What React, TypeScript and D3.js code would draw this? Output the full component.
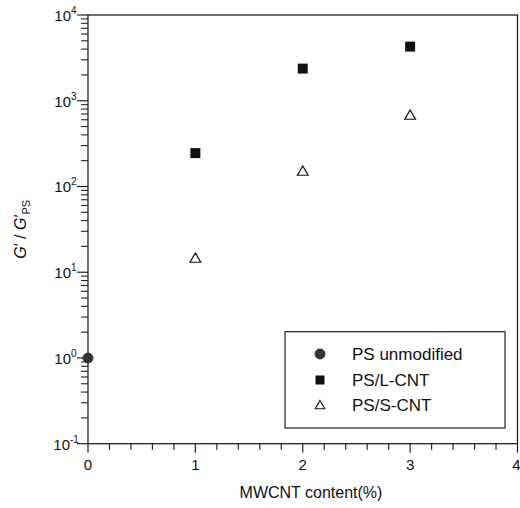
import React from "react";
import * as d3 from "d3";

const xTicks = [0, 1, 2, 3, 4];
const yExponents = [-1, 0, 1, 2, 3, 4];
const psUnmodX = [0];
const psUnmodY = [1];
const lcntX = [1, 2, 3];
const lcntY = [245, 2370, 4280];
const scntX = [1, 2, 3];
const scntY = [14.6, 151, 679];
const legendLabels = ["PS unmodified", "PS/L-CNT", "PS/S-CNT"];

const W = 520, H = 508;
const L = 88, R = 517.5, T = 15, B = 443.7;
const FONT = "Liberation Sans, Arial, sans-serif";

export default function App() {
  const x = d3.scaleLinear().domain([0, 4]).range([L, R]);
  const y = d3.scaleLog().domain([0.1, 10000]).range([B, T]);
  const minorX = d3.range(0, 4.0001, 0.2).filter((v) => Math.abs(v - Math.round(v)) > 1e-6);
  const minorY: number[] = [];
  for (let e = -1; e < 4; e++) for (let m = 2; m <= 9; m++) minorY.push(m * Math.pow(10, e));
  const tri = d3.symbol().type(d3.symbolTriangle).size(50)() as string;

  return (
    <svg width={W} height={H} style={{ position: "absolute", left: 0, top: 0 }} fontFamily={FONT}>
      <rect x={0} y={0} width={W} height={H} fill="#fff" />
      {/* frame */}
      <rect x={L} y={T} width={R - L} height={B - T} fill="none" stroke="#222" strokeWidth={1.3} />
      {/* x ticks */}
      {xTicks.map((t) => (
        <g key={"xt" + t}>
          <line x1={x(t)} x2={x(t)} y1={B} y2={B + 9} stroke="#222" strokeWidth={1.2} />
          <text x={t === 4 ? x(t) - 1 : x(t)} y={470} fontSize={15} textAnchor="middle" fill="#111">{t}</text>
        </g>
      ))}
      {minorX.map((t, i) => (
        <line key={"xm" + i} x1={x(t)} x2={x(t)} y1={B} y2={B + 6} stroke="#222" strokeWidth={1.2} />
      ))}
      {/* y ticks */}
      {yExponents.map((e) => {
        const v = Math.pow(10, e);
        return (
          <g key={"yt" + e}>
            <line x1={L - 11} x2={L} y1={y(v)} y2={y(v)} stroke="#222" strokeWidth={1.2} />
            <text x={e < 0 ? 70 : 71} y={y(v) + 6} fontSize={15} textAnchor="end" fill="#111">10</text>
            <text x={e < 0 ? 70 : 71} y={y(v) - 1} fontSize={10} textAnchor="start" fill="#111">{e}</text>
          </g>
        );
      })}
      {minorY.map((v, i) => (
        <line key={"ym" + i} x1={L - 7} x2={L} y1={y(v)} y2={y(v)} stroke="#222" strokeWidth={1.1} />
      ))}
      {/* axis titles */}
      <text x={311} y={498} fontSize={16} textAnchor="middle" fill="#111">MWCNT content(%)</text>
      <text transform={`translate(26,${(T + B) / 2}) rotate(-90)`} fontSize={16} textAnchor="middle" fill="#111">
        <tspan fontStyle="italic">G</tspan>
        <tspan>{"\u2032 / "}</tspan>
        <tspan fontStyle="italic">G</tspan>
        <tspan>{"\u2032"}</tspan>
        <tspan fontSize={11} dy={4}>PS</tspan>
      </text>
      {/* data */}
      {psUnmodX.map((v, i) => (
        <circle key={"c" + i} cx={x(v)} cy={y(psUnmodY[i])} r={5} fill="#333" stroke="#222" strokeWidth={0.8} />
      ))}
      {lcntX.map((v, i) => (
        <rect key={"s" + i} x={x(v) - 5} y={y(lcntY[i]) - 5} width={10} height={10} fill="#111" />
      ))}
      {scntX.map((v, i) => (
        <path key={"t" + i} d={tri} transform={`translate(${x(v)},${y(scntY[i]) + 1})`} fill="#fff" stroke="#111" strokeWidth={1.2} />
      ))}
      {/* legend */}
      <rect x={285} y={331.7} width={220} height={96.3} fill="#fff" stroke="#222" strokeWidth={1.2} />
      <circle cx={320} cy={354} r={5} fill="#333" stroke="#222" strokeWidth={0.8} />
      <rect x={315.5} y={375.5} width={9} height={9} fill="#111" />
      <path d={d3.symbol().type(d3.symbolTriangle).size(40)() as string} transform="translate(320,406)" fill="#fff" stroke="#111" strokeWidth={1.1} />
      {legendLabels.map((l, i) => (
        <text key={l} x={352} y={360 + i * 25.5} fontSize={17} fill="#111">{l}</text>
      ))}
    </svg>
  );
}
